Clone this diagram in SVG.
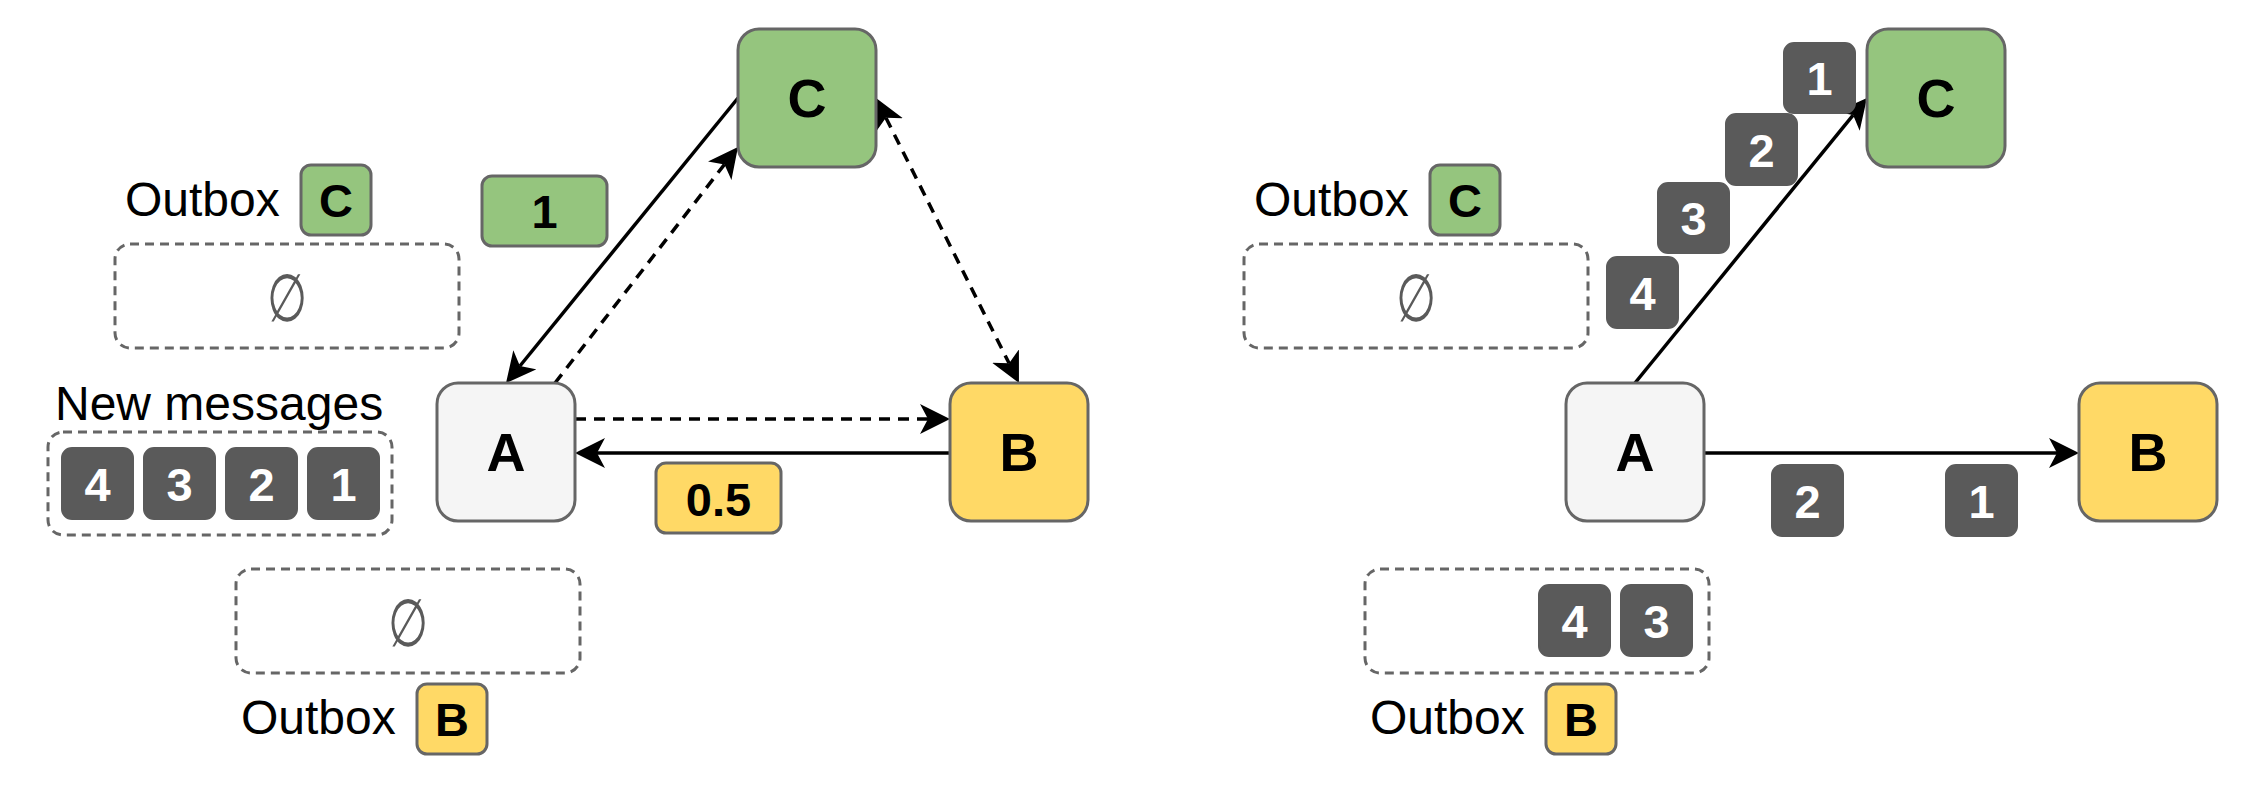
<svg xmlns="http://www.w3.org/2000/svg" width="2254" height="796" viewBox="0 0 2254 796">
<style>
text{font-family:"Liberation Sans",Arial,Helvetica,sans-serif}
.nd{stroke:#666666;stroke-width:3}
.gr{fill:#95C57E}
.ye{fill:#FFD966}
.wh{fill:#F5F5F5}
.dk{fill:#5A5A5A;stroke:#5A5A5A;stroke-width:2}
.box{fill:none;stroke:#666666;stroke-width:3;stroke-dasharray:9 6}
.big{font-size:54px;font-weight:bold;text-anchor:middle;fill:#000}
.sm{font-size:47px;font-weight:bold;text-anchor:middle;fill:#000}
.wt{font-size:47px;font-weight:bold;text-anchor:middle;fill:#FFFFFF}
.pl{font-size:48px;fill:#000}
.em{font-size:66px;fill:#5A5A5A;text-anchor:middle;font-family:"DejaVu Sans",sans-serif}
.e{fill:none;stroke:#000;stroke-width:3.5}
.d{stroke-dasharray:11 8}
</style>
<defs>
<marker id="ar" markerUnits="userSpaceOnUse" viewBox="0 0 30 30" markerWidth="30" markerHeight="30" refX="8" refY="15" orient="auto-start-reverse">
<path d="M30,15 L0,0 L8,15 L0,30 Z" fill="#000"/>
</marker>
</defs>

<g id="connectors">
<path class="e" d="M738,98 L519.9,366" marker-end="url(#ar)"/>
<path class="e d" d="M555,383 L724.5,164.4" marker-end="url(#ar)"/>
<path class="e d" d="M885.9,117.7 L1009.1,363.3" marker-start="url(#ar)" marker-end="url(#ar)"/>
<path class="e d" d="M575,419 L928,419" marker-end="url(#ar)"/>
<path class="e" d="M950,453 L597,453" marker-end="url(#ar)"/>
<path class="e" d="M1635,383 L1853.1,115.1" marker-end="url(#ar)"/>
<path class="e" d="M1704,453 L2057,453" marker-end="url(#ar)"/>
</g>

<g id="left-outbox-c">
<text class="pl" x="125" y="216">Outbox</text>
<rect class="nd gr" x="301" y="165" width="70" height="70" rx="10"/>
<text class="sm" x="336" y="217">C</text>
</g>
<g id="left-outbox-c-queue">
<rect class="box" x="115" y="244" width="344" height="104" rx="15"/>
<text class="em" transform="translate(287,321) scale(0.7,1)" x="0" y="0">∅</text>
</g>
<g id="left-new-messages">
<text class="pl" x="55" y="420">New messages</text>
<rect class="box" x="48" y="432" width="344" height="103" rx="15"/>
<rect class="dk" x="62" y="448" width="71" height="71" rx="10"/>
<text class="wt" x="97.5" y="501">4</text>
<rect class="dk" x="144" y="448" width="71" height="71" rx="10"/>
<text class="wt" x="179.5" y="501">3</text>
<rect class="dk" x="226" y="448" width="71" height="71" rx="10"/>
<text class="wt" x="261.5" y="501">2</text>
<rect class="dk" x="308" y="448" width="71" height="71" rx="10"/>
<text class="wt" x="343.5" y="501">1</text>
</g>
<g id="left-A">
<rect class="nd wh" x="437" y="383" width="138" height="138" rx="21"/>
<text class="big" x="506" y="471" fill="#1a1a1a">A</text>
</g>
<g id="left-B">
<rect class="nd ye" x="950" y="383" width="138" height="138" rx="21"/>
<text class="big" x="1019" y="471">B</text>
</g>
<g id="left-C">
<rect class="nd gr" x="738" y="29" width="138" height="138" rx="21"/>
<text class="big" x="807" y="117">C</text>
</g>
<g id="left-msg-1">
<rect class="nd gr" x="482" y="176" width="125" height="70" rx="10"/>
<text class="sm" x="544.5" y="228">1</text>
</g>
<g id="left-msg-05">
<rect class="nd ye" x="656" y="463" width="125" height="70" rx="10"/>
<text class="sm" x="718.5" y="516">0.5</text>
</g>
<g id="left-outbox-b-queue">
<rect class="box" x="236" y="569" width="344" height="104" rx="15"/>
<text class="em" transform="translate(408,646) scale(0.7,1)" x="0" y="0">∅</text>
</g>
<g id="left-outbox-b">
<text class="pl" x="241" y="734">Outbox</text>
<rect class="nd ye" x="417" y="684" width="70" height="70" rx="10"/>
<text class="sm" x="452" y="736">B</text>
</g>

<g id="right-outbox-c">
<text class="pl" x="1254" y="216">Outbox</text>
<rect class="nd gr" x="1430" y="165" width="70" height="70" rx="10"/>
<text class="sm" x="1465" y="217">C</text>
</g>
<g id="right-outbox-c-queue">
<rect class="box" x="1244" y="244" width="344" height="104" rx="15"/>
<text class="em" transform="translate(1416,321) scale(0.7,1)" x="0" y="0">∅</text>
</g>
<g id="right-A">
<rect class="nd wh" x="1566" y="383" width="138" height="138" rx="21"/>
<text class="big" x="1635" y="471" fill="#1a1a1a">A</text>
</g>
<g id="right-B">
<rect class="nd ye" x="2079" y="383" width="138" height="138" rx="21"/>
<text class="big" x="2148" y="471">B</text>
</g>
<g id="right-C">
<rect class="nd gr" x="1867" y="29" width="138" height="138" rx="21"/>
<text class="big" x="1936" y="117">C</text>
</g>
<g id="right-msgs-to-c">
<rect class="dk" x="1784" y="43" width="71" height="70" rx="10"/>
<text class="wt" x="1819.5" y="95">1</text>
<rect class="dk" x="1726" y="114" width="71" height="71" rx="10"/>
<text class="wt" x="1761.5" y="166.5">2</text>
<rect class="dk" x="1658" y="183" width="71" height="70" rx="10"/>
<text class="wt" x="1693.5" y="235">3</text>
<rect class="dk" x="1607" y="257" width="71" height="71" rx="10"/>
<text class="wt" x="1642.5" y="309.5">4</text>
</g>
<g id="right-msgs-to-b">
<rect class="dk" x="1772" y="465" width="71" height="71" rx="10"/>
<text class="wt" x="1807.5" y="517.5">2</text>
<rect class="dk" x="1946" y="465" width="71" height="71" rx="10"/>
<text class="wt" x="1981.5" y="517.5">1</text>
</g>
<g id="right-outbox-b-queue">
<rect class="box" x="1365" y="569" width="344" height="104" rx="15"/>
<rect class="dk" x="1539" y="585" width="71" height="71" rx="10"/>
<text class="wt" x="1574.5" y="637.5">4</text>
<rect class="dk" x="1621" y="585" width="71" height="71" rx="10"/>
<text class="wt" x="1656.5" y="637.5">3</text>
</g>
<g id="right-outbox-b">
<text class="pl" x="1370" y="734">Outbox</text>
<rect class="nd ye" x="1546" y="684" width="70" height="70" rx="10"/>
<text class="sm" x="1581" y="736">B</text>
</g>
</svg>
